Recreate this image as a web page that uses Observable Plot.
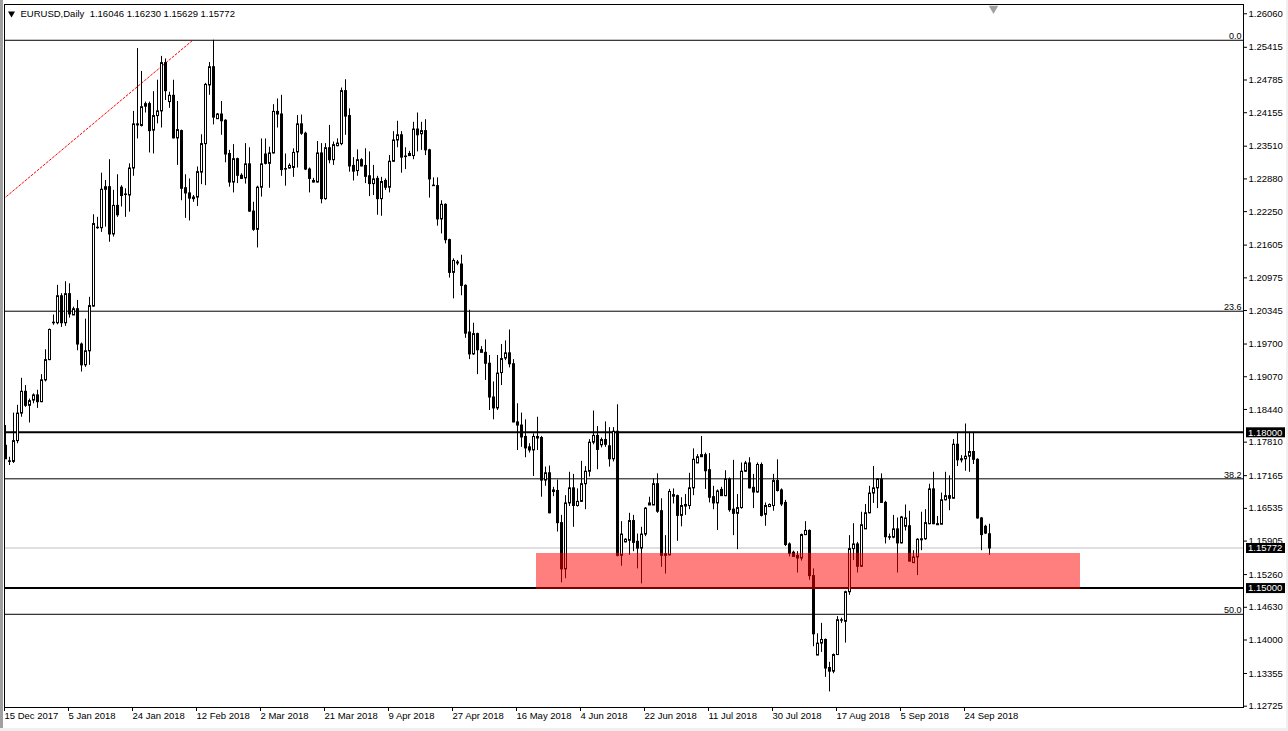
<!DOCTYPE html>
<html><head><meta charset="utf-8">
<script src="https://cdn.jsdelivr.net/npm/d3@7"></script>
<script src="https://cdn.jsdelivr.net/npm/@observablehq/plot@0.6"></script>
<style>
html,body{margin:0;padding:0;background:#fff;}
#chart{position:relative;width:1288px;height:731px;overflow:hidden}
#chart svg, #chart svg text{font-family:"Liberation Sans", Arial, sans-serif !important;}
</style>
</head><body><div id="chart"></div>
<script>
const symbol = "EURUSD", period = "Daily";
const opens = [
1.1775,1.1745,1.1744,1.1784,1.1837,1.1879,1.1852,1.1862,1.1872,1.1859,
1.1901,1.1940,1.2011,1.2011,1.2063,1.2011,1.2067,1.2026,1.2038,1.1970,
1.1930,1.1957,1.2043,1.2194,1.2194,1.2268,1.2273,1.2182,1.2237,1.2272,
1.2258,1.2257,1.2309,1.2394,1.2391,1.2428,1.2433,1.2382,1.2410,1.2419,
1.2512,1.2437,1.2449,1.2367,1.2381,1.2271,1.2261,1.2250,1.2253,1.2301,
1.2356,1.2469,1.2504,1.2404,1.2413,1.2401,1.2337,1.2282,1.2327,1.2295,
1.2290,1.2317,1.2226,1.2191,1.2272,1.2336,1.2318,1.2338,1.2418,1.2413,
1.2307,1.2309,1.2310,1.2340,1.2394,1.2376,1.2307,1.2285,1.2282,1.2338,
1.2250,1.2348,1.2325,1.2352,1.2356,1.2458,1.2410,1.2314,1.2304,1.2325,
1.2314,1.2294,1.2279,1.2289,1.2250,1.2285,1.2272,1.2322,1.2363,1.2373,
1.2331,1.2337,1.2333,1.2384,1.2375,1.2381,1.2344,1.2276,1.2275,1.2211,
1.2239,1.2171,1.2108,1.2128,1.2124,1.2083,1.1993,1.1951,1.1990,1.1959,
1.1954,1.1933,1.1868,1.1847,1.1915,1.1943,1.1953,1.1932,1.1820,1.1814,
1.1792,1.1772,1.1766,1.1789,1.1790,1.1708,1.1722,1.1686,1.1688,1.1626,
1.1537,1.1664,1.1693,1.1659,1.1667,1.1701,1.1725,1.1781,1.1794,1.1776,
1.1786,1.1774,1.1749,1.1802,1.1563,1.1589,1.1592,1.1630,1.1590,1.1577,
1.1604,1.1660,1.1660,1.1701,1.1649,1.1563,1.1564,1.1677,1.1678,1.1640,
1.1658,1.1659,1.1693,1.1741,1.1753,1.1757,1.1728,1.1676,1.1664,1.1690,
1.1678,1.1710,1.1652,1.1644,1.1655,1.1725,1.1741,1.1694,1.1685,1.1738,
1.1642,1.1657,1.1659,1.1707,1.1689,1.1665,1.1585,1.1569,1.1563,1.1558,
1.1603,1.1611,1.1524,1.1371,1.1394,1.1401,1.1347,1.1340,1.1372,1.1438,
1.1436,1.1493,1.1576,1.1585,1.1542,1.1614,1.1645,1.1683,1.1693,1.1710,
1.1665,1.1599,1.1598,1.1614,1.1587,1.1619,1.1620,1.1549,1.1560,1.1593,
1.1595,1.1624,1.1691,1.1624,1.1623,1.1670,1.1678,1.1673,1.1777,1.1749,
1.1749,1.1754,1.1763,1.1748,1.1635,1.1619,1.16046];
const highs = [
1.1813,1.1752,1.1837,1.1852,1.1904,1.1890,1.1864,1.1874,1.1881,1.1911,
1.1959,1.1999,1.2026,1.2083,1.2067,1.2090,1.2086,1.2041,1.2054,1.1972,
1.2018,1.2060,1.2219,1.2214,1.2299,1.2285,1.2325,1.2266,1.2296,1.2275,
1.2269,1.2317,1.2418,1.2539,1.2495,1.2436,1.2436,1.2456,1.2478,1.2524,
1.2519,1.2455,1.2478,1.2437,1.2382,1.2296,1.2288,1.2256,1.2311,1.2373,
1.2472,1.2512,1.2555,1.2414,1.2437,1.2402,1.2343,1.2354,1.2328,1.2298,
1.2356,1.2348,1.2243,1.2274,1.2365,1.2365,1.2349,1.2431,1.2442,1.2449,
1.2336,1.2317,1.2346,1.2410,1.2411,1.2378,1.2309,1.2289,1.2360,1.2356,
1.2356,1.2391,1.2359,1.2365,1.2463,1.2479,1.2423,1.2329,1.2344,1.2327,
1.2346,1.2340,1.2314,1.2293,1.2291,1.2288,1.2333,1.2379,1.2399,1.2379,
1.2348,1.2341,1.2397,1.2415,1.2397,1.2402,1.2345,1.2290,1.2290,1.2246,
1.2240,1.2172,1.2134,1.2131,1.2141,1.2084,1.2035,1.2010,1.1991,1.1965,
1.1978,1.1948,1.1897,1.1948,1.1969,1.1976,1.1997,1.1940,1.1855,1.1837,
1.1824,1.1778,1.1797,1.1829,1.1792,1.1733,1.1735,1.1694,1.1708,1.1640,
1.1678,1.1723,1.1719,1.1691,1.1744,1.1734,1.1786,1.1841,1.1811,1.1789,
1.1820,1.1809,1.1809,1.1853,1.1628,1.1595,1.1644,1.1640,1.1604,1.1617,
1.1655,1.1675,1.1710,1.1720,1.1672,1.1601,1.1690,1.1691,1.1679,1.1674,
1.1680,1.1721,1.1768,1.1757,1.1792,1.1760,1.1759,1.1696,1.1689,1.1694,
1.1726,1.1712,1.1746,1.1680,1.1741,1.1744,1.1751,1.1719,1.1741,1.1741,
1.1664,1.1662,1.1719,1.1747,1.1691,1.1669,1.1587,1.1571,1.1570,1.1604,
1.1628,1.1612,1.1537,1.1412,1.1432,1.1402,1.1357,1.1373,1.1445,1.1442,
1.1494,1.1601,1.1624,1.1588,1.1646,1.1661,1.1696,1.1734,1.1711,1.1720,
1.1667,1.1604,1.1640,1.1635,1.1638,1.1660,1.1648,1.1572,1.1595,1.1646,
1.1651,1.1700,1.1723,1.1638,1.1683,1.1723,1.1716,1.1786,1.1800,1.1755,
1.1816,1.1800,1.1800,1.1749,1.1636,1.1621,1.16230];
const lows = [
1.1748,1.1736,1.1740,1.1778,1.1829,1.1848,1.1818,1.1855,1.1846,1.1857,
1.1897,1.1938,1.2006,1.2007,1.2002,1.2004,1.2020,1.2025,1.1957,1.1916,
1.1925,1.1929,1.2041,1.2191,1.2185,1.2195,1.2166,1.2176,1.2214,1.2234,
1.2214,1.2224,1.2293,1.2365,1.2388,1.2415,1.2338,1.2336,1.2394,1.2386,
1.2439,1.2424,1.2365,1.2314,1.2246,1.2212,1.2207,1.2243,1.2235,1.2277,
1.2275,1.2449,1.2392,1.2403,1.2372,1.2319,1.2272,1.2261,1.2279,1.2287,
1.2278,1.2224,1.2187,1.2155,1.2253,1.2315,1.2270,1.2336,1.2386,1.2293,
1.2274,1.2307,1.2291,1.2309,1.2372,1.2304,1.2261,1.2280,1.2280,1.2240,
1.2247,1.2317,1.2314,1.2350,1.2352,1.2372,1.2301,1.2284,1.2293,1.2311,
1.2279,1.2254,1.2256,1.2218,1.2216,1.2266,1.2261,1.2320,1.2348,1.2299,
1.2306,1.2331,1.2325,1.2340,1.2343,1.2333,1.2251,1.2275,1.2197,1.2182,
1.2163,1.2097,1.2057,1.2121,1.2063,1.1981,1.1940,1.1948,1.1911,1.1954,
1.1900,1.1842,1.1824,1.1842,1.1890,1.1938,1.1924,1.1818,1.1765,1.1771,
1.1751,1.1760,1.1715,1.1765,1.1675,1.1696,1.1643,1.1676,1.1608,1.1510,
1.1518,1.1657,1.1617,1.1656,1.1665,1.1651,1.1714,1.1776,1.1728,1.1770,
1.1771,1.1733,1.1743,1.1560,1.1542,1.1587,1.1563,1.1570,1.1537,1.1508,
1.1599,1.1659,1.1659,1.1644,1.1540,1.1527,1.1562,1.1662,1.1590,1.1618,
1.1640,1.1651,1.1678,1.1740,1.1752,1.1690,1.1664,1.1651,1.1611,1.1677,
1.1676,1.1646,1.1601,1.1574,1.1652,1.1723,1.1691,1.1653,1.1683,1.1637,
1.1619,1.1655,1.1648,1.1685,1.1657,1.1580,1.1560,1.1559,1.1529,1.1552,
1.1601,1.1515,1.1387,1.1370,1.1376,1.1328,1.1300,1.1335,1.1370,1.1432,
1.1394,1.1486,1.1553,1.1529,1.1540,1.1613,1.1643,1.1663,1.1653,1.1664,
1.1585,1.1592,1.1595,1.1529,1.1585,1.1610,1.1550,1.1548,1.1524,1.1572,
1.1592,1.1622,1.1622,1.1621,1.1622,1.1668,1.1649,1.1671,1.1734,1.1741,
1.1725,1.1723,1.1738,1.1633,1.1572,1.1603,1.15629];
const closes = [
1.1749,1.1744,1.1784,1.1837,1.1879,1.1852,1.1861,1.1872,1.1859,1.1901,
1.1940,1.1998,1.2012,1.2063,1.2011,1.2067,1.2028,1.2038,1.1970,1.1930,
1.1957,1.2044,1.2202,1.2195,1.2268,1.2273,1.2182,1.2237,1.2219,1.2256,
1.2259,1.2309,1.2394,1.2392,1.2427,1.2433,1.2381,1.2410,1.2419,1.2512,
1.2458,1.2449,1.2367,1.2383,1.2270,1.2261,1.2251,1.2253,1.2302,1.2356,
1.2470,1.2504,1.2407,1.2413,1.2400,1.2336,1.2282,1.2327,1.2295,1.2289,
1.2317,1.2226,1.2191,1.2272,1.2317,1.2318,1.2338,1.2418,1.2413,1.2306,
1.2308,1.2314,1.2339,1.2394,1.2376,1.2307,1.2289,1.2282,1.2338,1.2250,
1.2348,1.2325,1.2354,1.2357,1.2458,1.2409,1.2313,1.2303,1.2325,1.2313,
1.2293,1.2279,1.2288,1.2250,1.2283,1.2272,1.2322,1.2363,1.2373,1.2330,
1.2332,1.2333,1.2384,1.2373,1.2381,1.2344,1.2288,1.2275,1.2211,1.2239,
1.2171,1.2108,1.2131,1.2126,1.2083,1.1991,1.1951,1.1990,1.1959,1.1954,
1.1933,1.1868,1.1847,1.1914,1.1942,1.1953,1.1932,1.1820,1.1814,1.1791,
1.1770,1.1766,1.1792,1.1792,1.1708,1.1722,1.1645,1.1689,1.1626,1.1537,
1.1664,1.1693,1.1659,1.1667,1.1701,1.1725,1.1781,1.1794,1.1767,1.1786,
1.1777,1.1749,1.1802,1.1563,1.1604,1.1594,1.1630,1.1588,1.1577,1.1604,
1.1654,1.1664,1.1701,1.1648,1.1563,1.1566,1.1686,1.1680,1.1640,1.1659,
1.1661,1.1693,1.1748,1.1753,1.1757,1.1726,1.1675,1.1664,1.1687,1.1678,
1.1710,1.1651,1.1644,1.1655,1.1725,1.1741,1.1693,1.1685,1.1738,1.1640,
1.1659,1.1661,1.1707,1.1688,1.1662,1.1584,1.1567,1.1561,1.1558,1.1603,
1.1611,1.1524,1.1412,1.1394,1.1401,1.1346,1.1340,1.1372,1.1439,1.1439,
1.1493,1.1576,1.1585,1.1542,1.1622,1.1645,1.1683,1.1693,1.1710,1.1665,
1.1599,1.1598,1.1614,1.1587,1.1637,1.1635,1.1552,1.1560,1.1594,1.1595,
1.1626,1.1691,1.1624,1.1622,1.1670,1.1678,1.1673,1.1777,1.1747,1.1747,
1.1754,1.1763,1.1748,1.1635,1.1603,1.1606,1.15772];

const dateLabels = ["15 Dec 2017","5 Jan 2018","24 Jan 2018","12 Feb 2018","2 Mar 2018","21 Mar 2018","9 Apr 2018","27 Apr 2018","16 May 2018","4 Jun 2018","22 Jun 2018","11 Jul 2018","30 Jul 2018","17 Aug 2018","5 Sep 2018","24 Sep 2018"];
const dateTickBars = [0,16,32,48,64,80,96,112,128,144,160,176,192,208,224,240];
const priceTicks = [1.26060,1.25415,1.24785,1.24155,1.23510,1.22880,1.22250,1.21605,1.20975,1.20345,1.19700,1.19070,1.18440,1.17810,1.17165,1.16535,1.15905,1.15260,1.14630,1.14000,1.13355,1.12725];
const resistance = 1.18000, support = 1.15000, bid = 1.15772;
const fibHigh = {bar: 46.8, price: 1.2555};
const fibLow = {bar: -295.5, price: 1.0344};
const fibRatios = [0, 0.236, 0.382, 0.5];
const fibNames = ["0.0", "23.6", "38.2", "50.0"];
const zone = {startBar: 132.75, endBar: 268.75, low: 1.14973, high: 1.15666};

const candles = opens.map((o, i) => ({i, o, h: highs[i], l: lows[i], c: closes[i]}));
const bulls = candles.filter(d => d.c >= d.o);
const bears = candles.filter(d => d.c < d.o);
const fibLevels = fibRatios.map((r, k) => ({price: fibHigh.price - r * (fibHigh.price - fibLow.price), name: fibNames[k]}));
const fmt = d3.format(".5f");
const last = candles[candles.length - 1];
const header = `${symbol},${period}\u00a0\u00a0${fmt(last.o)} ${fmt(last.h)} ${fmt(last.l)} ${fmt(last.c)}`;

const W = 1288, H = 731, mL = 4, mR = 45, mT = 4, mB = 24;

const plot = Plot.plot({
  width: W, height: H,
  marginLeft: mL, marginRight: mR, marginTop: mT, marginBottom: mB,
  x: {type: "linear", domain: [-0.25, 309.5], axis: null},
  y: {type: "linear", domain: [1.12700, 1.26239], axis: null},
  style: {fontSize: "9.5px", background: "white", color: "black", overflow: "visible"},
  marks: [
    Plot.ruleY(fibLevels, {y: "price", stroke: "black", strokeWidth: 1}),
    Plot.text(fibLevels, {y: "price", text: "name", frameAnchor: "right", textAnchor: "end", lineAnchor: "bottom", dx: -2, dy: -1, fill: "black", fontSize: 9}),
    Plot.ruleY([bid], {stroke: "#c0c0c0", strokeWidth: 1}),
    Plot.ruleY([resistance, support], {stroke: "black", strokeWidth: 2}),
    Plot.line([fibLow, fibHigh], {x: "bar", y: "price", stroke: "red", strokeWidth: 1, strokeDasharray: "2,2", clip: true}),
    Plot.ruleX(candles, {x: "i", y1: "l", y2: "h", stroke: "black", strokeWidth: 1}),
    Plot.rect(bulls, {x1: d => d.i - 0.25, x2: d => d.i + 0.25, y1: "o", y2: "c", dx: 0.5, dy: 0.5, fill: "white", stroke: "black", strokeWidth: 1}),
    Plot.rect(bears, {x1: d => d.i - 0.25, x2: d => d.i + 0.25, y1: "o", y2: "c", dx: 0.5, dy: 0.5, fill: "black", stroke: "black", strokeWidth: 1}),
    Plot.rect([zone], {x1: "startBar", x2: "endBar", y1: "low", y2: "high", fill: "red", fillOpacity: 0.5}),
    Plot.frame({stroke: "black"}),
    Plot.axisY({anchor: "right", ticks: priceTicks, tickFormat: fmt, tickSize: 3, tickPadding: 2, label: null}),
    Plot.axisX({anchor: "bottom", ticks: dateTickBars, tickFormat: d => dateLabels[dateTickBars.indexOf(d)], textAnchor: "start", dx: -1, tickSize: 4, tickPadding: 1, label: null}),
    Plot.dot([0], {frameAnchor: "top-left", dx: 7, dy: 9, symbol: "triangle", rotate: 180, r: 2.6, fill: "black", stroke: "none"}),
    Plot.text([header], {text: d => d, frameAnchor: "top-left", dx: 16, dy: 9, lineAnchor: "middle", textAnchor: "start", fill: "black"}),
    Plot.dot([candles.length], {x: d => d, frameAnchor: "top", dy: 4, symbol: "triangle", rotate: 180, r: 3.5, fill: "#a0a0a0", stroke: "none"})
  ]
});

// price highlight boxes on the right axis
const ys = plot.scale("y");
const svg = d3.select(plot);
const gx = W - mR;
const g = svg.append("g").attr("font-size", "9.5px").attr("text-anchor", "start");
for (const p of [resistance, bid, support]) {
  const y = ys.apply(p);
  g.append("rect").attr("x", gx + 3).attr("y", y - 4.5).attr("width", 39).attr("height", 10).attr("fill", "black");
  g.append("text").attr("x", gx + 5).attr("y", y + 0.5).attr("dy", "0.35em").attr("text-anchor", "start").attr("fill", "white").text(fmt(p));
}
// window edges
const edge = svg.append("g");
edge.append("rect").attr("x", 0).attr("y", 0).attr("width", 3).attr("height", H).attr("fill", "#a0a0a0");
edge.append("rect").attr("x", 0).attr("y", H - 3).attr("width", W).attr("height", 3).attr("fill", "#f0f0f0");
edge.append("rect").attr("x", W - 2).attr("y", 0).attr("width", 2).attr("height", H).attr("fill", "#f0f0f0");

document.getElementById("chart").appendChild(plot);
</script>
</body></html>
